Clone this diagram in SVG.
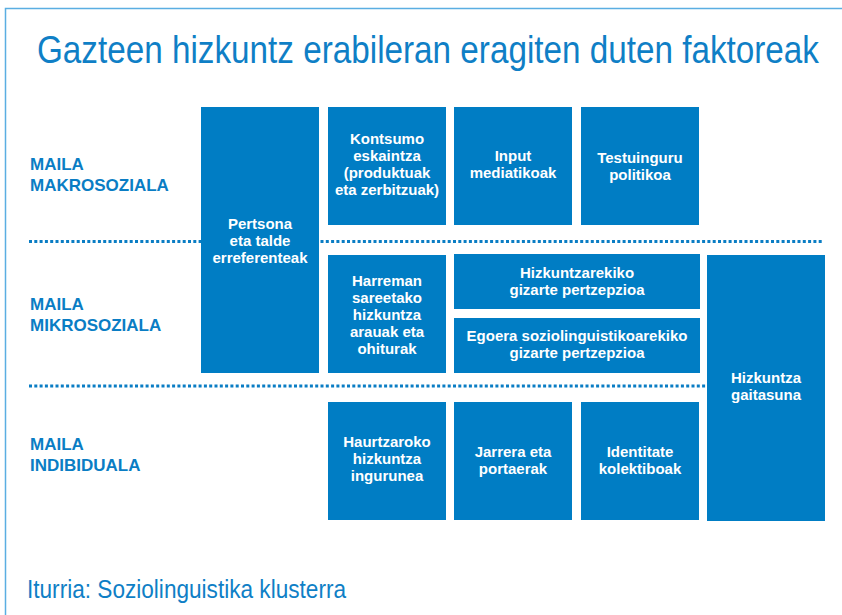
<svg xmlns="http://www.w3.org/2000/svg" width="842" height="615" viewBox="0 0 842 615">
<style>
.box{fill:#007dc4}
.bt{font-family:"Liberation Sans",Arial,sans-serif;font-weight:bold;font-size:15px;fill:#ffffff;text-anchor:middle}
.lvl{font-family:"Liberation Sans",Arial,sans-serif;font-weight:bold;font-size:17px;fill:#0a7dc4}
.dot{stroke:#0a7dc4;stroke-width:3;stroke-dasharray:3 2.3;fill:none}
</style>
<rect x="0" y="0" width="842" height="615" fill="#ffffff"/>
<path d="M5.5 615 V8.5 H842" fill="none" stroke="#5aaee2" stroke-width="1.5"/>
<g transform="scale(0.8 1)">
<text x="46.25" y="63" font-family="'Liberation Sans',Arial,sans-serif" font-size="38" fill="#0f7fc6" textLength="977.5" lengthAdjust="spacingAndGlyphs">Gazteen hizkuntz erabileran eragiten duten faktoreak</text>
</g>
<g id="connectors">
<line class="dot" x1="29" y1="241.5" x2="824" y2="241.5"/>
<line class="dot" x1="29" y1="386" x2="707" y2="386"/>
</g>
<g id="level-makro"><text class="lvl" x="30" y="170">MAILA</text><text class="lvl" x="30" y="191">MAKROSOZIALA</text></g>
<g id="level-mikro"><text class="lvl" x="30" y="310">MAILA</text><text class="lvl" x="30" y="331">MIKROSOZIALA</text></g>
<g id="level-indib"><text class="lvl" x="30" y="450">MAILA</text><text class="lvl" x="30" y="471">INDIBIDUALA</text></g>
<g id="pertsona"><rect class="box" x="201" y="107" width="118" height="266"/>
<text class="bt" x="260" y="229">Pertsona</text><text class="bt" x="260" y="246">eta talde</text><text class="bt" x="260" y="263">erreferenteak</text></g>
<g id="kontsumo"><rect class="box" x="328" y="107" width="118" height="118"/>
<text class="bt" x="387" y="143.5">Kontsumo</text><text class="bt" x="387" y="161">eskaintza</text><text class="bt" x="387" y="178">(produktuak</text><text class="bt" x="387" y="195">eta zerbitzuak)</text></g>
<g id="input"><rect class="box" x="454" y="107" width="118" height="118"/>
<text class="bt" x="513" y="161">Input</text><text class="bt" x="513" y="178">mediatikoak</text></g>
<g id="testuinguru"><rect class="box" x="581" y="107" width="118" height="118"/>
<text class="bt" x="640" y="163">Testuinguru</text><text class="bt" x="640" y="180">politikoa</text></g>
<g id="harreman"><rect class="box" x="328" y="255" width="118" height="118"/>
<text class="bt" x="387" y="286">Harreman</text><text class="bt" x="387" y="303">sareetako</text><text class="bt" x="387" y="320">hizkuntza</text><text class="bt" x="387" y="337">arauak eta</text><text class="bt" x="387" y="354">ohiturak</text></g>
<g id="hizkuntzarekiko"><rect class="box" x="454" y="254" width="246" height="55"/>
<text class="bt" x="577" y="278">Hizkuntzarekiko</text><text class="bt" x="577" y="295">gizarte pertzepzioa</text></g>
<g id="egoera"><rect class="box" x="454" y="318" width="246" height="55"/>
<text class="bt" x="577" y="340.5">Egoera soziolinguistikoarekiko</text><text class="bt" x="577" y="357.5">gizarte pertzepzioa</text></g>
<g id="gaitasuna"><rect class="box" x="707" y="255" width="118" height="266"/>
<text class="bt" x="766" y="383">Hizkuntza</text><text class="bt" x="766" y="400">gaitasuna</text></g>
<g id="haurtzaroko"><rect class="box" x="328" y="402" width="118" height="118"/>
<text class="bt" x="387" y="446.5">Haurtzaroko</text><text class="bt" x="387" y="463.5">hizkuntza</text><text class="bt" x="387" y="480.5">ingurunea</text></g>
<g id="jarrera"><rect class="box" x="454" y="402" width="118" height="118"/>
<text class="bt" x="513" y="457">Jarrera eta</text><text class="bt" x="513" y="474">portaerak</text></g>
<g id="identitate"><rect class="box" x="581" y="402" width="118" height="118"/>
<text class="bt" x="640" y="457">Identitate</text><text class="bt" x="640" y="474">kolektiboak</text></g>
<text x="27" y="598" font-family="'Liberation Sans',Arial,sans-serif" font-size="25" fill="#0f7fc6" textLength="319" lengthAdjust="spacingAndGlyphs">Iturria: Soziolinguistika klusterra</text>
</svg>
